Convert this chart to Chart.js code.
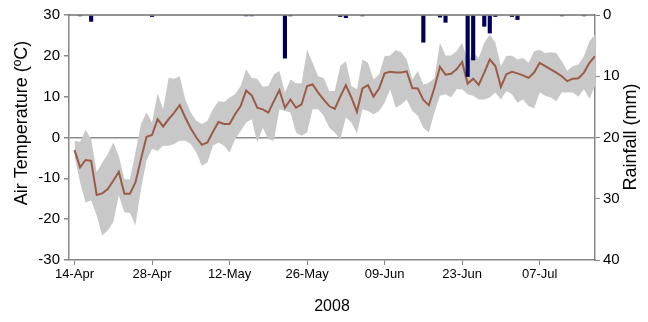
<!DOCTYPE html>
<html>
<head>
<meta charset="utf-8">
<script src="https://cdn.jsdelivr.net/npm/chart.js@4.4.1/dist/chart.umd.min.js"></script>
<style>
  html, body { margin: 0; padding: 0; background: #fff; }
</style>
</head>
<body>
<canvas id="chart-weather" width="648" height="322"></canvas>
<script>
// day 0 = 14-Apr-2008, one value per day
const tickDays = [0, 14, 28, 42, 56, 70, 84];
const tickLabels = ["14-Apr", "28-Apr", "12-May", "26-May", "09-Jun", "23-Jun", "07-Jul"];

const tempMean = [
  -3.1, -7.3, -5.5, -5.7, -14.1, -13.7, -12.6, -10.6, -8.4, -13.8,
  -13.8, -11, -5.3, 0.2, 0.6, 4.5, 2.7, 4.5, 6.1, 7.9,
  4.9, 2.2, 0, -1.8, -1.2, 1.4, 3.8, 3.3, 3.3, 5.7,
  7.7, 11.5, 10.3, 7.3, 6.9, 6.1, 8.9, 11.6, 7.3, 9.3,
  7.3, 8.1, 12.6, 13, 11, 9.3, 7.7, 7, 10, 12.8,
  9.8, 6.3, 12, 12.8, 10, 12, 15.7, 16.1, 15.9, 15.9,
  16.2, 12.1, 12, 9.2, 7.9, 12.2, 17.3, 15.4, 15.6, 16.7,
  18.5, 13.2, 14.4, 12.9, 15.9, 19.1, 17.5, 12.4, 15.5, 16.1,
  15.7, 15.2, 14.6, 15.9, 18.3, 17.5, 16.7, 15.9, 15, 13.8,
  14.4, 14.5, 15.9, 18.3, 19.9,
];

const tempMax = [
  -0.8, -1.1, 1.9, -0.4, -8.5, -6.1, -4.1, -1.2, -4.5, -10.2,
  -10.2, -3.7, 3.3, 6.1, 3.7, 10.8, 6.9, 14.6, 14.4, 15,
  9.3, 6.1, 4.1, 3.3, 4.1, 6.9, 8.9, 8.7, 9.8, 10.6,
  12.6, 16.7, 14.6, 14.4, 12.4, 12.6, 15.4, 16.3, 11, 14.2,
  13.3, 13.3, 21.5, 18.3, 15, 14.6, 11.4, 11.4, 17.5, 18.7,
  12.6, 11.8, 19.1, 18.3, 14.2, 15.4, 19.9, 20.1, 21.4, 20.9,
  19.1, 14.2, 16.3, 13, 13.4, 14.6, 23.2, 20.1, 20.1, 21.1,
  23.2, 18.7, 20.7, 19.5, 23.2, 25.2, 23.2, 17.5, 20, 20,
  19.1, 19.5, 18.3, 21.1, 21.5, 20.7, 20.9, 20.7, 18.7, 16.3,
  17.5, 17.9, 19.9, 23.6, 25.2,
];

const tempMin = [
  -4.5, -11, -15.9, -15.4, -19.1, -24, -22.8, -20.7, -14.2, -18.3,
  -18.5, -21.5, -12.6, -5.7, -2.8, -3.3, -2, -2, -1.6, -0.8,
  -0.8, -1.6, -3.7, -6.9, -6.1, -2, -1.2, -2, -3.7, -0.4,
  1.6, 3.7, 4.5, -1.2, 2.4, -0.4, -0.8, 6.9, 6.5, 6.1,
  1.2, 0.4, 1.2, 6.9, 6.9, 5.3, 2.4, 1.2, -0.4, 4.9,
  3.7, 1, 6.9, 6.5, 5.7, 6.5, 8.5, 11.8, 7.3, 8.1,
  9.3, 6.5, 5.3, 2.4, 1.2, 6.1, 10.2, 10.6, 9.8, 11.8,
  11.8, 10.6, 10.2, 9.3, 9.3, 9.8, 11, 9.3, 11.4, 10.6,
  8.5, 9.3, 7.7, 7.1, 11, 10.2, 9.8, 8.9, 11, 11,
  11, 10, 11.8, 9.5, 12.6,
];

const rainfall = [
  0, 0.2, 0, 1.1, 0, 0, 0, 0, 0, 0,
  0, 0, 0, 0, 0.3, 0, 0, 0, 0, 0,
  0, 0, 0, 0, 0, 0, 0, 0, 0, 0,
  0, 0.2, 0.2, 0, 0, 0, 0, 0, 7.1, 0.2,
  0, 0, 0, 0, 0, 0, 0, 0, 0.3, 0.5,
  0, 0, 0.2, 0, 0, 0, 0, 0, 0, 0,
  0, 0, 0, 4.5, 0, 0, 0.4, 1.25, 0, 0,
  0, 10.1, 7.4, 0, 1.9, 3, 0.3, 0, 0, 0.3,
  0.8, 0, 0, 0, 0, 0, 0, 0, 0.2, 0,
  0, 0, 0.2, 0, 0,
];

const fontFamily = "'Liberation Sans', Arial, sans-serif";
const axisGrey = "#878787";

document.addEventListener("DOMContentLoaded", () => {
  main();
});

const main = () => {
  const chartCtx = document.querySelector("#chart-weather");
  new Chart(chartCtx, generateChartConfig());
};

const toPoints = (values) => values.map((value, day) => ({ x: day, y: value }));

// y-axis titles and the top frame line, drawn by hand to place them like the original
const framePlugin = {
  id: "frame",
  afterDatasetsDraw: (chart) => {
    const { ctx, chartArea } = chart;
    ctx.save();
    ctx.strokeStyle = "#6e6e6e";
    ctx.lineWidth = 1.5;
    ctx.beginPath();
    ctx.moveTo(chartArea.left, chartArea.top);
    ctx.lineTo(chartArea.right, chartArea.top);
    ctx.stroke();
    ctx.restore();
  },
  afterDraw: (chart) => {
    const { ctx } = chart;
    const drawTitle = (text, x, y) => {
      ctx.save();
      ctx.translate(x, y);
      ctx.rotate(-Math.PI / 2);
      ctx.font = `18px ${fontFamily}`;
      ctx.fillStyle = "#000";
      ctx.textAlign = "center";
      ctx.textBaseline = "middle";
      ctx.fillText(text, 0, 0);
      ctx.restore();
    };
    drawTitle("Air Temperature (ºC)", 22, 123);
    drawTitle("Rainfall (mm)", 631, 137);
  },
};

const generateChartConfig = () => {
  const xTickFont = { family: fontFamily, size: 13 };
  const yTickFont = { family: fontFamily, size: 15 };

  return {
    type: "bar",
    data: getChartData(),
    plugins: [framePlugin],
    options: {
      responsive: false,
      animation: false,
      layout: { padding: { top: 15, left: 0, right: 0, bottom: 0 } },
      plugins: {
        legend: { display: false },
        tooltip: { enabled: false },
      },
      scales: {
        x: {
          type: "linear",
          min: -1,
          max: 94,
          offset: false,
          afterBuildTicks: (scale) => {
            scale.ticks = tickDays.map((value) => ({ value }));
          },
          afterFit: (scale) => {
            scale.height = 62;
          },
          ticks: {
            callback: (value) => tickLabels[tickDays.indexOf(value)] ?? "",
            font: xTickFont,
            color: "#000",
            padding: 2,
            maxRotation: 0,
            autoSkip: false,
          },
          grid: { drawOnChartArea: false, offset: false, tickLength: 5, color: axisGrey },
          border: { color: axisGrey, width: 1.5 },
          title: {
            display: true,
            text: "2008",
            font: { family: fontFamily, size: 16 },
            color: "#000",
            padding: { top: 0, bottom: 6 },
          },
        },
        temp: {
          position: "left",
          min: -30,
          max: 30,
          afterFit: (scale) => {
            scale.width = 69;
          },
          ticks: { stepSize: 10, font: yTickFont, color: "#000", padding: 4 },
          grid: {
            color: (ctx) => (ctx.tick && ctx.tick.value === 0 ? "#8c8c8c" : "transparent"),
            lineWidth: 1.5,
            tickColor: axisGrey,
            tickLength: 5,
          },
          border: { color: axisGrey, width: 1.5 },
        },
        rain: {
          position: "right",
          reverse: true,
          min: 0,
          max: 40,
          afterFit: (scale) => {
            scale.width = 53;
          },
          ticks: { stepSize: 10, font: yTickFont, color: "#000", padding: 3 },
          grid: { drawOnChartArea: false, tickLength: 5, color: axisGrey },
          border: { color: axisGrey, width: 1.5 },
        },
      },
    },
  };
};

const getChartData = () => {
  return {
    datasets: [
      {
        type: "bar",
        label: "Rainfall",
        data: toPoints(rainfall),
        xAxisID: "x",
        yAxisID: "rain",
        backgroundColor: "#00005c",
        barPercentage: 1,
        categoryPercentage: 0.75,
        order: 0,
      },
      {
        type: "line",
        label: "Mean",
        data: toPoints(tempMean),
        xAxisID: "x",
        yAxisID: "temp",
        borderColor: "#9b5b46",
        borderWidth: 2,
        pointRadius: 0,
        fill: false,
        order: 1,
      },
      {
        type: "line",
        label: "Max",
        data: toPoints(tempMax),
        xAxisID: "x",
        yAxisID: "temp",
        borderWidth: 0,
        pointRadius: 0,
        backgroundColor: "#c8c8c8",
        fill: "+1",
        order: 2,
      },
      {
        type: "line",
        label: "Min",
        data: toPoints(tempMin),
        xAxisID: "x",
        yAxisID: "temp",
        borderWidth: 0,
        pointRadius: 0,
        fill: false,
        order: 3,
      },
    ],
  };
};
</script>
</body>
</html>
